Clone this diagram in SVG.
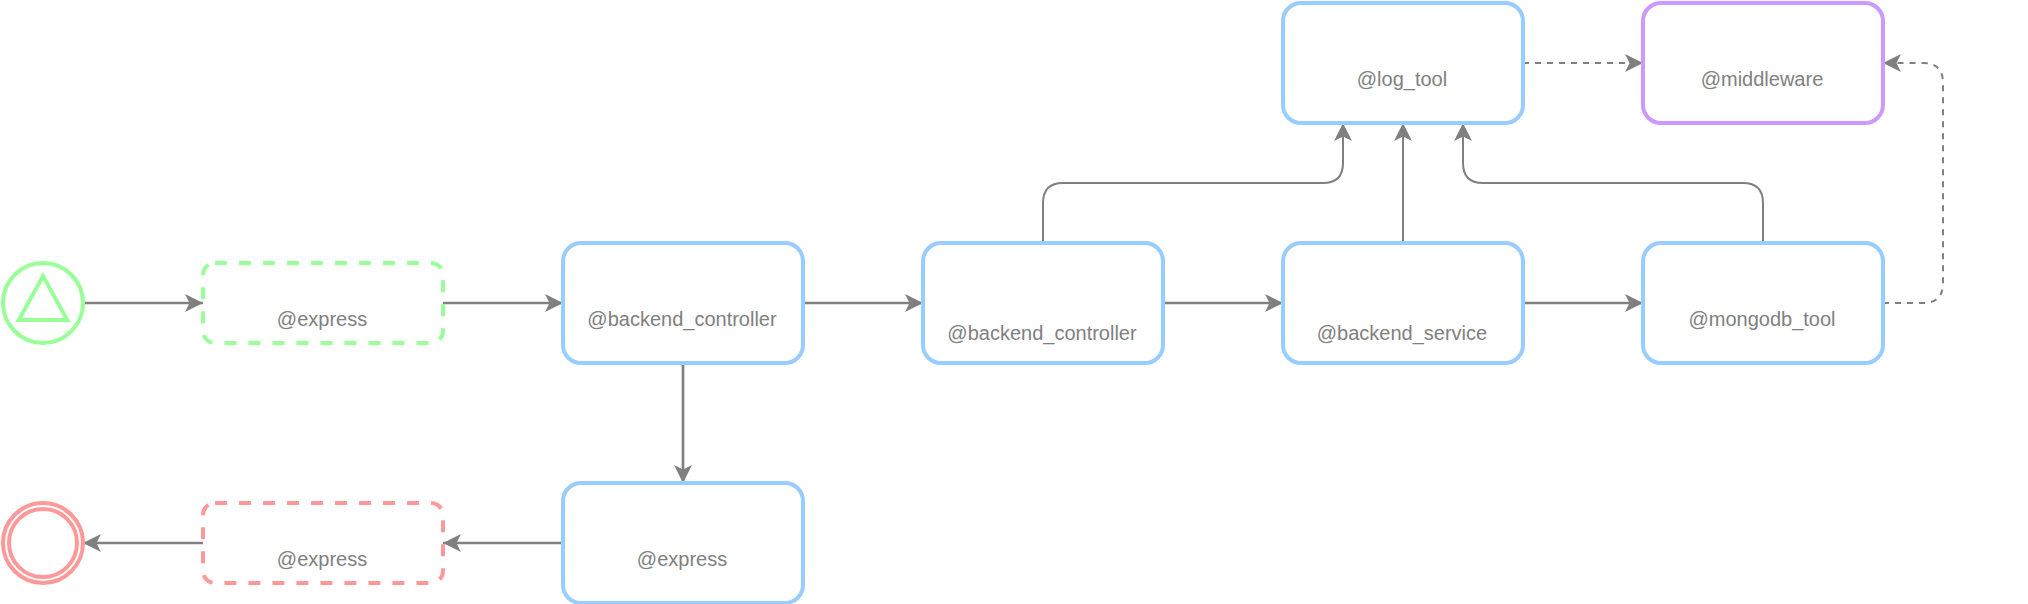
<svg xmlns="http://www.w3.org/2000/svg" width="2028" height="604" viewBox="0 0 2028 604">
<style>
.box{fill:#fff;stroke:#99ccff;stroke-width:4}
.purple{stroke:#cc99ff}
.sg{fill:#fff;stroke:#99ff99;stroke-width:4;stroke-dasharray:12 12}
.sr{fill:#fff;stroke:#ff9999;stroke-width:4;stroke-dasharray:12 12}
text{font-family:"Liberation Sans",Arial,sans-serif;font-size:20px;fill:#808080;text-anchor:middle}
.c{fill:none;stroke:#808080;stroke-width:2.67;stroke-miterlimit:10}
.t{stroke-width:2}
.e{stroke-width:2;stroke-dasharray:6 6}
</style>
<defs>
<marker id="a" markerUnits="userSpaceOnUse" markerWidth="20" markerHeight="20" refX="18" refY="9" orient="auto" overflow="visible"><path d="M18 9 L0 18 L4.5 9 L0 0 Z" fill="#808080"/></marker>
</defs>
<rect width="2028" height="604" fill="#fff"/>
<g id="connectors">
<path class="c" marker-end="url(#a)" d="M83 303H203"/>
<path class="c" marker-end="url(#a)" d="M443 303H563"/>
<path class="c" marker-end="url(#a)" d="M803 303H923"/>
<path class="c" marker-end="url(#a)" d="M1163 303H1283"/>
<path class="c" marker-end="url(#a)" d="M1523 303H1643"/>
<path class="c" marker-end="url(#a)" d="M683 363V483"/>
<path class="c" marker-end="url(#a)" d="M563 543H443"/>
<path class="c" marker-end="url(#a)" d="M203 543H83"/>
<path class="c t" marker-end="url(#a)" d="M1043 243V203Q1043 183 1063 183H1323Q1343 183 1343 163V123"/>
<path class="c t" marker-end="url(#a)" d="M1403 243V123"/>
<path class="c t" marker-end="url(#a)" d="M1763 243V203Q1763 183 1743 183H1483Q1463 183 1463 163V123"/>
<path class="c e" marker-end="url(#a)" d="M1523 63H1643"/>
<path class="c e" marker-end="url(#a)" d="M1883 303H1923Q1943 303 1943 283V83Q1943 63 1923 63H1883"/>
</g>
<g id="start"><circle cx="43" cy="303" r="40" fill="#fff" stroke="#99ff99" stroke-width="4"/><path d="M43 276L67.2 320H18.8Z" fill="#fff" stroke="#99ff99" stroke-width="4"/></g>
<g id="end"><circle cx="43" cy="543" r="40" fill="#fff" stroke="#ff9999" stroke-width="4"/><circle cx="43" cy="543" r="34" fill="#fff" stroke="#ff9999" stroke-width="4"/></g>
<g id="express-green"><rect class="sg" x="203" y="263" width="240" height="80" rx="12"/><text x="322" y="326">@express</text></g>
<g id="express-red"><rect class="sr" x="203" y="503" width="240" height="80" rx="12"/><text x="322" y="566">@express</text></g>
<g id="backend-controller-1"><rect class="box" x="563" y="243" width="240" height="120" rx="18"/><text x="682" y="326">@backend_controller</text></g>
<g id="express-blue"><rect class="box" x="563" y="483" width="240" height="120" rx="18"/><text x="682" y="566">@express</text></g>
<g id="backend-controller-2"><rect class="box" x="923" y="243" width="240" height="120" rx="18"/><text x="1042" y="340">@backend_controller</text></g>
<g id="backend-service"><rect class="box" x="1283" y="243" width="240" height="120" rx="18"/><text x="1402" y="340">@backend_service</text></g>
<g id="mongodb-tool"><rect class="box" x="1643" y="243" width="240" height="120" rx="18"/><text x="1762" y="326">@mongodb_tool</text></g>
<g id="log-tool"><rect class="box" x="1283" y="3" width="240" height="120" rx="18"/><text x="1402" y="86">@log_tool</text></g>
<g id="middleware"><rect class="box purple" x="1643" y="3" width="240" height="120" rx="18"/><text x="1762" y="86">@middleware</text></g>
</svg>
